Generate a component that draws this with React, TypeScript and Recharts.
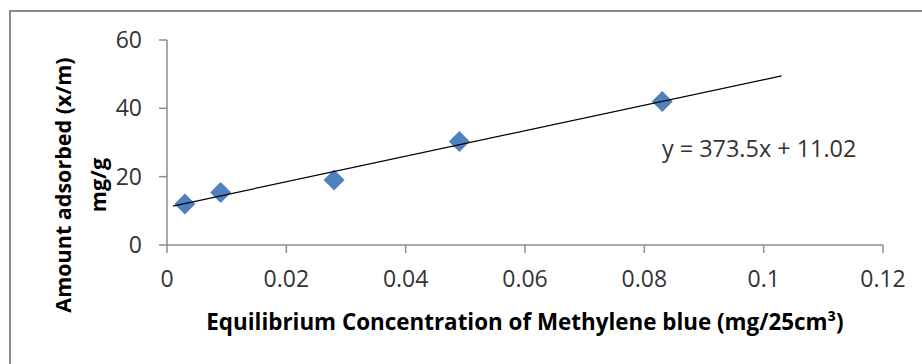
import { ScatterChart, Scatter, XAxis, YAxis, Label } from 'recharts';

// measured points (mg/25cm3 vs mg/g)
const concentration = [0.003, 0.009, 0.028, 0.049, 0.083];
const adsorbed = [12.0, 15.4, 19.0, 30.3, 42.0];

// linear trendline ends, as drawn
const trendX = [0.001, 0.103];
const trendY = [11.4, 49.5];

const xTicks = [0, 0.02, 0.04, 0.06, 0.08, 0.1, 0.12];
const yTicks = [0, 20, 40, 60];

const equationText = 'y = 373.5x + 11.02';

const points = concentration.map((x, i) => ({ x, y: adsorbed[i] }));
const trend = trendX.map((x, i) => ({ x, y: trendY[i] }));

const FONT = '"Open Sans", sans-serif';

function Diamond(props: any) {
  const { cx, cy } = props;
  const r = 10.5;
  return (
    <polygon
      points={`${cx},${cy - r} ${cx + r},${cy} ${cx},${cy + r} ${cx - r},${cy}`}
      fill="#4f81bd"
    />
  );
}

function YTitle() {
  return (
    <g fontFamily={FONT} fontWeight={700} fontSize={21.5} fill="#000">
      <text x={62} y={185} textAnchor="middle" dominantBaseline="central" transform="rotate(-90 62 185)">
        Amount adsorbed (x/m)
      </text>
      <text x={97} y={185} textAnchor="middle" dominantBaseline="central" transform="rotate(-90 97 185)">
        mg/g
      </text>
    </g>
  );
}

function XTitle() {
  return (
    <g fontFamily={FONT}>
      <text x={525} y={321} textAnchor="middle" dominantBaseline="central" fontWeight={700} fontSize={22.4} fill="#000">
        Equilibrium Concentration of Methylene blue (mg/25cm³)
      </text>
      <text x={662} y={148} textAnchor="start" dominantBaseline="central" fontSize={23.4} fill="#333">
        {equationText}
      </text>
    </g>
  );
}

export default function App() {
  return (
    <div style={{ position: 'absolute', left: 0, top: 0, width: 922, height: 364, background: '#fff', overflow: 'hidden' }}>
      <div
        style={{
          position: 'absolute',
          left: 9,
          top: 10,
          width: 913,
          height: 354,
          borderTop: '2px solid #8c8c8c',
          borderLeft: '2px solid #8c8c8c',
          boxSizing: 'border-box',
        }}
      />
      <div style={{ position: 'absolute', left: 0, top: 0 }}>
        <ScatterChart width={922} height={364} margin={{ top: 40, right: 39, bottom: 79, left: 107 }}>
          <XAxis
            type="number"
            dataKey="x"
            domain={[0, 0.12]}
            ticks={xTicks}
            allowDataOverflow
            height={40}
            tickSize={8}
            tickMargin={18}
            stroke="#8c8c8c"
            strokeWidth={1.5}
            tick={{ fill: '#333', fontSize: 23, fontFamily: FONT }}
          >
            <Label content={() => <XTitle />} />
          </XAxis>
          <YAxis
            type="number"
            dataKey="y"
            domain={[0, 60]}
            ticks={yTicks}
            width={60}
            tickSize={8}
            tickMargin={17}
            stroke="#8c8c8c"
            strokeWidth={1.5}
            tick={{ fill: '#333', fontSize: 23, fontFamily: FONT }}
          >
            <Label content={() => <YTitle />} />
          </YAxis>
          <Scatter data={points} shape={<Diamond />} isAnimationActive={false} />
          <Scatter
            data={trend}
            line={{ stroke: '#000', strokeWidth: 1.2 }}
            shape={() => <g />}
            isAnimationActive={false}
          />
        </ScatterChart>
      </div>
    </div>
  );
}
